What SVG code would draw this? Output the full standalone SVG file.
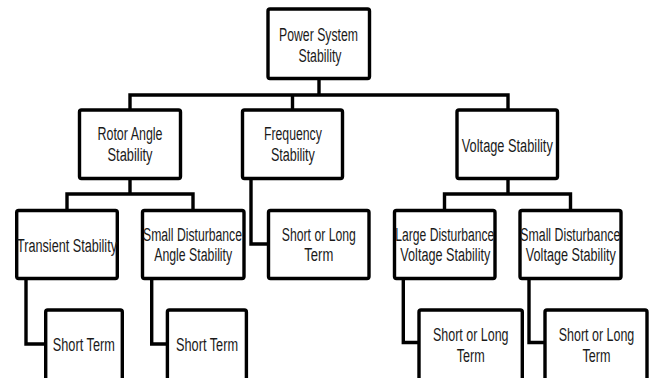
<svg xmlns="http://www.w3.org/2000/svg" width="654" height="378" viewBox="0 0 654 378">
<style>
  .box { fill: #ffffff; stroke: #000000; stroke-width: 3.4; }
  .conn { fill: none; stroke: #000000; stroke-width: 3.4; stroke-linejoin: miter; }
  text { font-family: "Liberation Sans Narrow", "Liberation Sans", Arial, sans-serif; font-size: 18px; fill: #1a1a1a; text-anchor: middle; }
</style>
<rect width="654" height="378" fill="#ffffff"/>
<g id="connectors">
  <path class="conn" d="M319 80 V95 M130 110 V95 H508 V110 M292.5 95 V110"/>
  <path class="conn" d="M130 180 V194 M67 210 V194 H193 V210"/>
  <path class="conn" d="M508 180 V194 M444.5 210 V194 H570.5 V210"/>
  <path class="conn" d="M251 180 V244 H268"/>
  <path class="conn" d="M26 280 V344 H46"/>
  <path class="conn" d="M151.7 280 V344 H168"/>
  <path class="conn" d="M403.3 280 V342.5 H419"/>
  <path class="conn" d="M529 280 V342.5 H545"/>
</g>
<g id="root">
  <rect class="box" x="268" y="9" width="101.5" height="69.5" rx="2"/>
  <text x="318.5" y="40.7" textLength="79" lengthAdjust="spacingAndGlyphs">Power System</text>
  <text x="320" y="61.7" textLength="43" lengthAdjust="spacingAndGlyphs">Stability</text>
</g>
<g id="rotor">
  <rect class="box" x="79.5" y="110" width="101" height="68.5" rx="2"/>
  <text x="130" y="139.5" textLength="65" lengthAdjust="spacingAndGlyphs">Rotor Angle</text>
  <text x="130" y="160.5" textLength="45" lengthAdjust="spacingAndGlyphs">Stability</text>
</g>
<g id="frequency">
  <rect class="box" x="242.5" y="110" width="100" height="68.5" rx="2"/>
  <text x="292.9" y="139.5" textLength="58" lengthAdjust="spacingAndGlyphs">Frequency</text>
  <text x="292.9" y="160.5" textLength="44" lengthAdjust="spacingAndGlyphs">Stability</text>
</g>
<g id="voltage">
  <rect class="box" x="457" y="110" width="100.5" height="68.5" rx="2"/>
  <text x="507.3" y="151.5" textLength="91" lengthAdjust="spacingAndGlyphs">Voltage Stability</text>
</g>
<g id="transient">
  <rect class="box" x="16.7" y="210.5" width="100.6" height="68" rx="2"/>
  <text x="67" y="252" textLength="100" lengthAdjust="spacingAndGlyphs">Transient Stability</text>
</g>
<g id="small-angle">
  <rect class="box" x="142.5" y="210.5" width="101.5" height="68" rx="2"/>
  <text x="192.5" y="240.5" textLength="99" lengthAdjust="spacingAndGlyphs">Small Disturbance</text>
  <text x="193.2" y="261" textLength="78" lengthAdjust="spacingAndGlyphs">Angle Stability</text>
</g>
<g id="freq-term">
  <rect class="box" x="268.5" y="210.5" width="100.5" height="68" rx="2"/>
  <text x="318.8" y="240.5" textLength="74" lengthAdjust="spacingAndGlyphs">Short or Long</text>
  <text x="318.8" y="261" textLength="29" lengthAdjust="spacingAndGlyphs">Term</text>
</g>
<g id="large-voltage">
  <rect class="box" x="394.5" y="210.5" width="100.5" height="68" rx="2"/>
  <text x="444.8" y="240.5" textLength="99" lengthAdjust="spacingAndGlyphs">Large Disturbance</text>
  <text x="445.3" y="261" textLength="90" lengthAdjust="spacingAndGlyphs">Voltage Stability</text>
</g>
<g id="small-voltage">
  <rect class="box" x="520" y="210.5" width="101" height="68" rx="2"/>
  <text x="570.3" y="240.5" textLength="100" lengthAdjust="spacingAndGlyphs">Small Disturbance</text>
  <text x="570.8" y="261" textLength="90" lengthAdjust="spacingAndGlyphs">Voltage Stability</text>
</g>
<g id="short-term-1">
  <rect class="box" x="45.7" y="310" width="76.6" height="80" rx="2"/>
  <text x="83.8" y="350.7" textLength="62" lengthAdjust="spacingAndGlyphs">Short Term</text>
</g>
<g id="short-term-2">
  <rect class="box" x="167.4" y="310" width="79" height="80" rx="2"/>
  <text x="207" y="350.7" textLength="62" lengthAdjust="spacingAndGlyphs">Short Term</text>
</g>
<g id="long-term-1">
  <rect class="box" x="419" y="310" width="103.3" height="80" rx="2"/>
  <text x="470.8" y="341" textLength="75.5" lengthAdjust="spacingAndGlyphs">Short or Long</text>
  <text x="470.8" y="361.5" textLength="28" lengthAdjust="spacingAndGlyphs">Term</text>
</g>
<g id="long-term-2">
  <rect class="box" x="545" y="310" width="102" height="80" rx="2"/>
  <text x="596.5" y="341" textLength="75.5" lengthAdjust="spacingAndGlyphs">Short or Long</text>
  <text x="596.5" y="361.5" textLength="28" lengthAdjust="spacingAndGlyphs">Term</text>
</g>
</svg>
